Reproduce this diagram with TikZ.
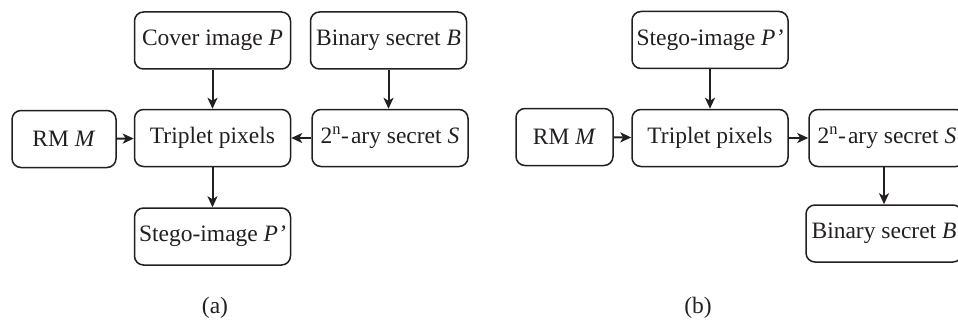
\documentclass[tikz,border=0pt]{standalone}
\usepackage{fontspec}
\setmainfont{Liberation Serif}
\usetikzlibrary{arrows.meta}
\definecolor{inkgrey}{HTML}{231F20}
\begin{document}
\begin{tikzpicture}[x=1pt,y=-1pt,
    blk/.style={draw=inkgrey,text=inkgrey,line width=1.5pt,rounded corners=9pt,
      minimum width=156pt,minimum height=57pt,inner sep=0pt,
      font=\fontsize{23.5}{27}\selectfont},
    flow/.style={draw=inkgrey,line width=2pt,-{Stealth[length=11pt,width=10pt,inset=3pt]}},
    sublabel/.style={text=inkgrey,font=\fontsize{23.5}{27}\selectfont}]
    \useasboundingbox (0,0) rectangle (958,321);
    \clip (0,0) rectangle (958,321);
    % Embedding, part (a)
    \node[blk] (coverA) at (212.5,40.5) {Cover image \textit{P}};
    \node[blk] (binA) at (388.5,40.5) {Binary secret \textit{B}};
    \node[blk,minimum width=104pt] (rmA) at (64,139) {RM \textit{M}};
    \node[blk] (tripA) at (212.5,138) {Triplet pixels};
    \node[blk] (aryA) at (390,138) {2\textsuperscript{n}-\kern2pt ary secret \textit{S}};
    \node[blk] (stegoA) at (212.5,236.5) {Stego-image \textit{P'}};
    \draw[flow] (coverA) -- (tripA);
    \draw[flow] (binA.south) -- (binA.south |- aryA.north);
    \draw[flow] (rmA) -- (tripA);
    \draw[flow] (aryA) -- (tripA);
    \draw[flow] (tripA) -- (stegoA);
    \node[sublabel] (capA) at (215,308) {(a)};
    % Extraction, part (b)
    \node[blk] (stegoB) at (710,40) {Stego-image \textit{P'}};
    \node[blk,minimum width=97pt] (rmB) at (564.5,137) {RM \textit{M}};
    \node[blk] (tripB) at (710,138) {Triplet pixels};
    \node[blk] (aryB) at (887,138) {2\textsuperscript{n}-\kern2pt ary secret \textit{S}};
    \node[blk] (binB) at (884,233.5) {Binary secret \textit{B}};
    \draw[flow] (stegoB) -- (tripB);
    \draw[flow] (rmB) -- (tripB);
    \draw[flow] (tripB) -- (aryB);
    \draw[flow] (aryB.south -| binB.north) -- (binB.north);
    \node[sublabel] (capB) at (698,308) {(b)};
\end{tikzpicture}
\end{document}
